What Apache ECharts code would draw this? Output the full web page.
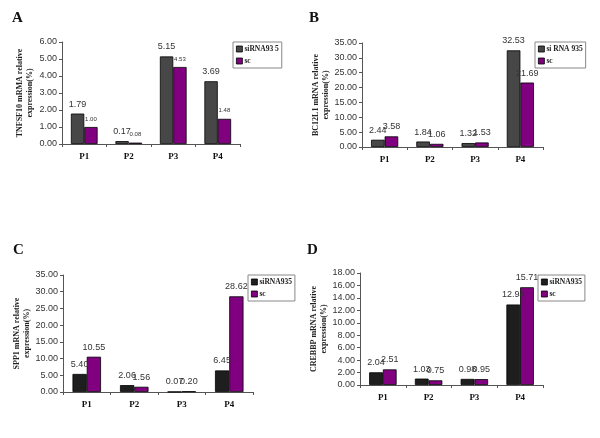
<!DOCTYPE html>
<html><head><meta charset="utf-8">
<script src="https://cdn.jsdelivr.net/npm/echarts@6/dist/echarts.min.js"></script>
<style>html,body{margin:0;padding:0;background:#fff}#c{width:600px;height:438px}</style>
</head><body><div id="c"></div>
<script>
const categories = ['P1', 'P2', 'P3', 'P4'];
const tnfSi = [1.79, 0.17, 5.15, 3.69];
const tnfSc = [1.00, 0.08, 4.53, 1.48];
const bclSi = [2.44, 1.84, 1.32, 32.53];
const bclSc = [3.58, 1.06, 1.53, 21.69];
const sppSi = [5.40, 2.06, 0.07, 6.45];
const sppSc = [10.55, 1.56, 0.20, 28.62];
const crebSi = [2.04, 1.03, 0.98, 12.94];
const crebSc = [2.51, 0.75, 0.95, 15.71];
const panelLetters = ['A', 'B', 'C', 'D'];
const yTitles = ['TNFSF10 mRMA relative\nexpression(%)', 'BC12L1 mRNA relative\nexpression(%)', 'SPP1 mRNA relative\nexpression(%)', 'CREBBP mRNA relative\nexpression(%)'];
const siNames = ['siRNA93 5', 'si RNA 935', 'siRNA935', 'siRNA935'];
const scName = 'sc';
const yMax = [6, 35, 35, 18];
const yInterval = [1, 5, 5, 2];

const panels = [
  {si: tnfSi, sc: tnfSc, grid: {left: 62, top: 42, width: 178, height: 102}, legend: {left: 233, top: 42}, letter: {left: 7, top: 6}, siColor: '#474747', scLabelSize: 6},
  {si: bclSi, sc: bclSc, grid: {left: 362, top: 43, width: 181, height: 104}, legend: {left: 535, top: 42}, letter: {left: 304, top: 6}, siColor: '#474747', scLabelSize: 9},
  {si: sppSi, sc: sppSc, grid: {left: 63, top: 275, width: 190, height: 117}, legend: {left: 248, top: 275}, letter: {left: 8, top: 238}, siColor: '#1e1e1e', scLabelSize: 9},
  {si: crebSi, sc: crebSc, grid: {left: 360, top: 273, width: 183, height: 112}, legend: {left: 538, top: 275}, letter: {left: 302, top: 238}, siColor: '#1e1e1e', scLabelSize: 9}
];

const serif = '"Liberation Serif", "Times New Roman", serif';
const sans = '"Liberation Sans", Arial, sans-serif';
const grid = [], xAxis = [], yAxis = [], series = [], legend = [], title = [];
panels.forEach((p, i) => {
  grid.push(p.grid);
  xAxis.push({
    type: 'category', gridIndex: i, data: categories,
    axisLine: {lineStyle: {color: '#555', width: 1}},
    axisTick: {show: true, length: 3, lineStyle: {color: '#555'}},
    axisLabel: {fontFamily: serif, fontWeight: 'bold', fontSize: 9, color: '#111', margin: 8}
  });
  yAxis.push({
    type: 'value', gridIndex: i, min: 0, max: yMax[i], interval: yInterval[i],
    name: yTitles[i], nameLocation: 'middle', nameRotate: 90, nameGap: 27,
    nameTextStyle: {fontFamily: serif, fontWeight: 'bold', fontSize: 8, color: '#222', lineHeight: 10},
    axisLine: {show: true, lineStyle: {color: '#555', width: 1}},
    axisTick: {show: true, length: 3, lineStyle: {color: '#555'}},
    splitLine: {show: false},
    axisLabel: {fontFamily: sans, fontSize: 9, color: '#333', margin: 5, formatter: v => v.toFixed(2)}
  });
  const mk = (name, data, color, size) => ({
    type: 'bar', name, data, xAxisIndex: i, yAxisIndex: i,
    barGap: '0%', barCategoryGap: '40%',
    itemStyle: {color, borderColor: '#000', borderWidth: 0.8},
    label: {show: true, position: 'top', distance: 5, fontFamily: sans, fontSize: size, color: '#333', formatter: d => d.value.toFixed(2)}
  });
  series.push(mk(siNames[i], p.si, p.siColor, 9));
  series.push(mk(scName, p.sc, '#800080', p.scLabelSize));
  legend.push({
    left: p.legend.left, top: p.legend.top, orient: 'vertical',
    data: [siNames[i], scName], icon: 'rect',
    itemWidth: 6, itemHeight: 6, itemGap: 4, padding: [3, 3, 3, 3],
    borderColor: '#888', borderWidth: 1, backgroundColor: '#fff',
    selectedMode: false,
    textStyle: {fontFamily: serif, fontWeight: 'bold', fontSize: 7.5, color: '#222', padding: [0, 0, 0, -3]},
    itemStyle: {borderColor: '#000', borderWidth: 0.8}
  });
  title.push({text: panelLetters[i], left: p.letter.left, top: p.letter.top,
    textStyle: {fontFamily: serif, fontWeight: 'bold', fontSize: 15, color: '#111'}});
});

const chart = echarts.init(document.getElementById('c'), null, {renderer: 'canvas'});
chart.setOption({animation: false, backgroundColor: '#fff', title, grid, xAxis, yAxis, legend, series});
</script></body></html>
